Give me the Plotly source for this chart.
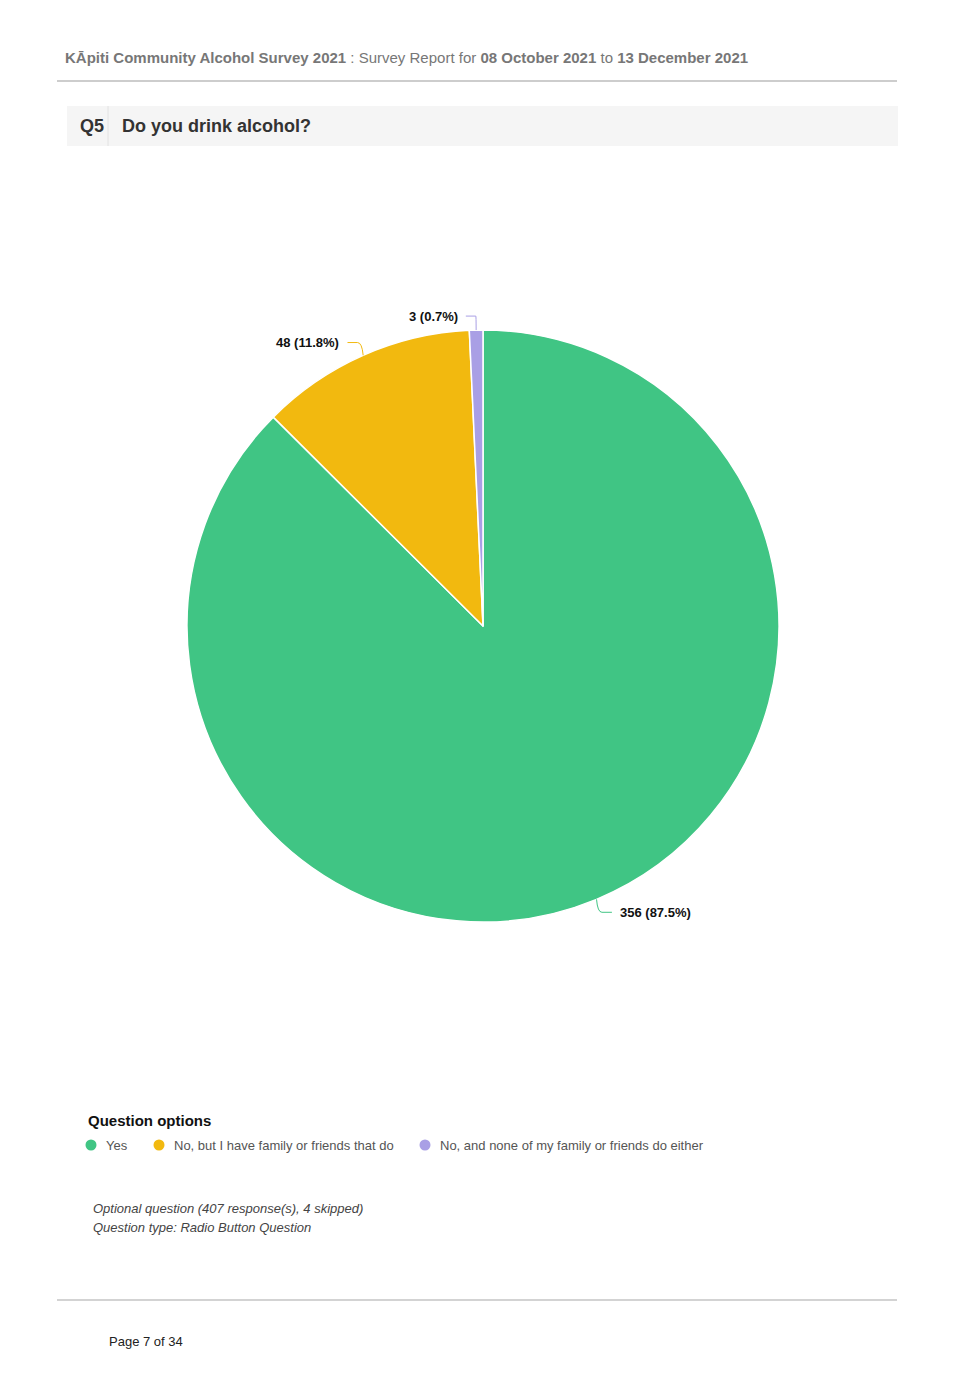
import math
import plotly.graph_objects as go

# ---- data ----
categories = ["Yes", "No, but I have family or friends that do", "No, and none of my family or friends do either"]
counts = [356, 48, 3]
colors = ["#40C584", "#F2B90F", "#A99FE5"]

PAGE_W, PAGE_H = 967, 1381
OFF = 8  # default body margin of the html page
W, H = PAGE_W - 2 * OFF, PAGE_H - 2 * OFF
FONT = "Liberation Sans, Arial, Helvetica, sans-serif"

def px(x):
    return (x - OFF) / W

def py(y):
    return 1 - (y - OFF) / H

# pie geometry (page pixels)
CX, CY, R = 483, 626, 296

fig = go.Figure()
fig.add_trace(go.Pie(
    labels=categories,
    values=counts,
    marker=dict(colors=colors, line=dict(color="white", width=1.5)),
    sort=False,
    direction="clockwise",
    rotation=0,
    textinfo="none",
    hoverinfo="label+value+percent",
    showlegend=False,
    domain=dict(x=[px(CX - R), px(CX + R)], y=[py(CY + R), py(CY - R)]),
))

shapes = []
annotations = []

# outside labels with connectors computed from the data
total = sum(counts)
cum = 0
for val, col in zip(counts, colors):
    mid = (cum + val / 2) / total
    cum += val
    ang = mid * 2 * math.pi
    sx, sy = math.sin(ang), -math.cos(ang)
    x0, y0 = CX + R * sx, CY + R * sy
    x1, y1 = CX + (R + 14) * sx, CY + (R + 14) * sy
    side = 1 if sx > 0.01 else -1
    x2 = x1 + side * 10
    path = (f"M {px(x0)} {py(y0)} Q {px(x0 + (x1 - x0) * 0.2)} {py(y1)} {px(x1)} {py(y1)} "
            f"L {px(x2)} {py(y1)}")
    shapes.append(dict(type="path", xref="paper", yref="paper", path=path,
                       line=dict(color=col, width=1)))
    annotations.append(dict(
        x=px(x2 + side * 6), y=py(y1), xref="paper", yref="paper",
        text=f"<b>{val} ({val / total * 100:.1f}%)</b>", showarrow=False,
        xanchor="left" if side > 0 else "right", yanchor="middle",
        font=dict(family=FONT, size=13, color="#111")))

# header
annotations.append(dict(
    x=px(63), y=py(58), xref="paper", yref="paper", xanchor="left", yanchor="middle",
    showarrow=False, font=dict(family=FONT, size=15, color="#777"),
    text=("<b>KĀpiti Community Alcohol Survey 2021</b> : Survey Report for "
          "<b>08 October 2021</b> to <b>13 December 2021</b>")))
shapes.append(dict(type="line", xref="paper", yref="paper", x0=px(57), x1=px(897),
                   y0=py(81), y1=py(81), line=dict(color="#BDBDBD", width=1.5)))

# question bar
shapes.append(dict(type="rect", xref="paper", yref="paper", x0=px(67), x1=px(898),
                   y0=py(146), y1=py(106), fillcolor="#F5F5F5", line=dict(width=0), layer="below"))
shapes.append(dict(type="line", xref="paper", yref="paper", x0=px(108), x1=px(108),
                   y0=py(146), y1=py(106), line=dict(color="#E2E2E2", width=1)))
annotations.append(dict(x=px(78), y=py(126), xref="paper", yref="paper", xanchor="left",
                        yanchor="middle", showarrow=False, text="<b>Q5</b>",
                        font=dict(family=FONT, size=18, color="#333")))
annotations.append(dict(x=px(120), y=py(126), xref="paper", yref="paper", xanchor="left",
                        yanchor="middle", showarrow=False, text="<b>Do you drink alcohol?</b>",
                        font=dict(family=FONT, size=18, color="#333")))

# legend
annotations.append(dict(x=px(86), y=py(1120), xref="paper", yref="paper", xanchor="left",
                        yanchor="middle", showarrow=False, text="<b>Question options</b>",
                        font=dict(family=FONT, size=15, color="#111")))
legend_x = [91, 159, 425]
for lx, cat, col in zip(legend_x, categories, colors):
    shapes.append(dict(type="circle", xref="paper", yref="paper",
                       x0=px(lx - 5.5), x1=px(lx + 5.5), y0=py(1145 + 5.5), y1=py(1145 - 5.5),
                       fillcolor=col, line=dict(width=0)))
    annotations.append(dict(x=px(lx + 13), y=py(1145), xref="paper", yref="paper",
                            xanchor="left", yanchor="middle", showarrow=False, text=cat,
                            font=dict(family=FONT, size=13, color="#555")))

# notes
annotations.append(dict(x=px(91), y=py(1208), xref="paper", yref="paper", xanchor="left",
                        yanchor="middle", showarrow=False,
                        text="<i>Optional question (407 response(s), 4 skipped)</i>",
                        font=dict(family=FONT, size=13, color="#444")))
annotations.append(dict(x=px(91), y=py(1227), xref="paper", yref="paper", xanchor="left",
                        yanchor="middle", showarrow=False,
                        text="<i>Question type: Radio Button Question</i>",
                        font=dict(family=FONT, size=13, color="#444")))

# footer
shapes.append(dict(type="line", xref="paper", yref="paper", x0=px(57), x1=px(897),
                   y0=py(1300), y1=py(1300), line=dict(color="#C4C4C4", width=1.5)))
annotations.append(dict(x=px(107), y=py(1341), xref="paper", yref="paper", xanchor="left",
                        yanchor="middle", showarrow=False, text="Page 7 of 34",
                        font=dict(family=FONT, size=13, color="#222")))

fig.update_layout(
    width=W, height=H,
    margin=dict(l=0, r=0, t=0, b=0),
    paper_bgcolor="white", plot_bgcolor="white",
    shapes=shapes, annotations=annotations,
    showlegend=False,
)

fig.write_html("out.html")
